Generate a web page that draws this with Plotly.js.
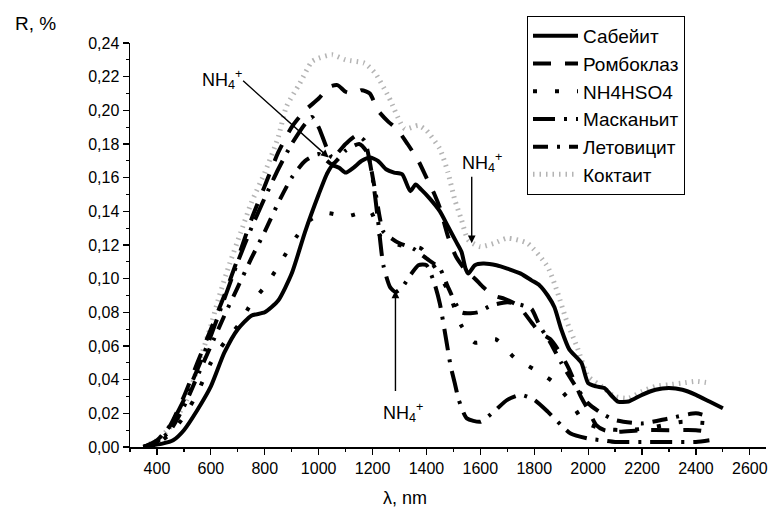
<!DOCTYPE html>
<html><head><meta charset="utf-8">
<script src="https://cdn.plot.ly/plotly-3.0.1.min.js"></script>
<style>html,body{margin:0;padding:0;background:#fff}#chart{width:770px;height:512px}</style>
</head><body><div id="chart"></div>
<script>
// Сабейит
const sabX = [350,380,420,460,500,550,600,650,700,750,800,850,900,950,1000,1030,1050,1075,1100,1130,1160,1190,1220,1250,1280,1310,1340,1360,1380,1410,1450,1480,1510,1530,1545,1555,1580,1610,1660,1700,1750,1790,1820,1850,1875,1900,1930,1975,2000,2030,2060,2090,2110,2150,2200,2250,2300,2350,2400,2450,2500];
const sabY = [0,0.001,0.002,0.004,0.010,0.022,0.036,0.056,0.070,0.078,0.080,0.087,0.103,0.128,0.150,0.162,0.167,0.166,0.163,0.166,0.170,0.172,0.170,0.165,0.163,0.162,0.152,0.156,0.153,0.148,0.140,0.131,0.122,0.116,0.106,0.103,0.108,0.109,0.108,0.106,0.103,0.099,0.096,0.090,0.083,0.070,0.058,0.050,0.038,0.036,0.035,0.030,0.027,0.027,0.031,0.034,0.035,0.034,0.031,0.027,0.023];
// Ромбоклаз
const romX = [350,400,450,500,550,600,650,700,750,800,850,900,950,1000,1040,1070,1100,1130,1160,1190,1220,1260,1290,1330,1370,1400,1430,1450,1480,1510,1550,1580,1610,1650,1690,1740,1790,1820,1860,1900,1930,1970,2000,2030,2060,2100,2200,2300,2400,2450];
const romY = [0,0.003,0.013,0.030,0.050,0.070,0.090,0.112,0.135,0.155,0.175,0.190,0.200,0.207,0.214,0.215,0.211,0.210,0.212,0.210,0.200,0.193,0.189,0.180,0.170,0.160,0.150,0.142,0.125,0.113,0.104,0.100,0.095,0.090,0.088,0.084,0.074,0.068,0.064,0.055,0.046,0.031,0.022,0.013,0.010,0.009,0.010,0.010,0.010,0.009];
// NH4HSO4
const nhX = [350,400,450,500,550,600,650,700,753,809,860,918,970,1026,1103,1192,1230,1300,1380,1430,1480,1530,1580,1657,1727,1801,1867,1930,1985,2050,2150,2250,2350,2450];
const nhY = [0,0.002,0.008,0.018,0.032,0.050,0.062,0.072,0.086,0.097,0.110,0.125,0.135,0.139,0.137,0.140,0.125,0.120,0.118,0.107,0.093,0.072,0.062,0.064,0.053,0.046,0.039,0.028,0.015,0.011,0.010,0.012,0.015,0.014];
// Масканьит
const masX = [350,400,450,500,550,600,650,700,750,800,850,900,950,975,1000,1050,1100,1140,1170,1200,1220,1240,1265,1285,1310,1340,1370,1400,1430,1450,1475,1490,1505,1520,1550,1600,1650,1700,1750,1800,1850,1900,1935,2000,2050,2100,2200,2300,2400,2450];
const masY = [0,0.004,0.013,0.028,0.046,0.066,0.088,0.110,0.130,0.148,0.165,0.180,0.192,0.196,0.190,0.172,0.180,0.185,0.182,0.160,0.135,0.108,0.095,0.092,0.095,0.102,0.108,0.108,0.097,0.085,0.062,0.048,0.038,0.028,0.017,0.015,0.021,0.028,0.031,0.028,0.021,0.013,0.008,0.005,0.004,0.003,0.003,0.003,0.003,0.004];
// Летовицит
const letX = [350,400,450,500,550,600,650,700,750,800,850,900,950,1000,1050,1100,1150,1180,1210,1240,1270,1300,1350,1400,1450,1480,1530,1590,1640,1700,1760,1790,1820,1860,1900,1950,2000,2050,2100,2200,2300,2400,2450];
const letY = [0,0.003,0.010,0.024,0.042,0.060,0.078,0.095,0.112,0.128,0.145,0.160,0.170,0.174,0.168,0.176,0.180,0.175,0.152,0.128,0.124,0.121,0.118,0.112,0.106,0.095,0.080,0.080,0.084,0.086,0.084,0.082,0.072,0.062,0.050,0.037,0.026,0.020,0.016,0.014,0.017,0.020,0.018];
// Коктаит
const kokX = [350,400,450,510,560,600,630,670,710,750,800,850,880,930,975,1000,1050,1100,1170,1210,1260,1320,1370,1400,1450,1480,1505,1530,1555,1600,1650,1700,1775,1850,1886,1920,1960,2000,2050,2100,2150,2200,2250,2300,2350,2400,2450];
const kokY = [0,0.004,0.012,0.028,0.052,0.072,0.089,0.109,0.127,0.145,0.163,0.184,0.202,0.216,0.229,0.231,0.233,0.230,0.228,0.222,0.208,0.189,0.191,0.188,0.177,0.163,0.147,0.135,0.123,0.119,0.121,0.124,0.121,0.107,0.092,0.075,0.059,0.042,0.036,0.030,0.029,0.033,0.036,0.037,0.038,0.039,0.038];

const names = ['Сабейит','Ромбоклаз','NH4HSO4','Масканьит','Летовицит','Коктаит'];
const yTicks = [0,0.02,0.04,0.06,0.08,0.10,0.12,0.14,0.16,0.18,0.20,0.22,0.24];
const xTicks = [400,600,800,1000,1200,1400,1600,1800,2000,2200,2400,2600];

const FONT = 'Arial, "Liberation Sans", sans-serif';
function tr(x, y, name, rank, line) {
  return {x, y, name, type:'scatter', mode:'lines', legendrank: rank,
          line: Object.assign({shape:'spline', smoothing:0.6}, line)};
}
const data = [
  tr(kokX, kokY, names[5], 6, {color:'#b4b4b4', width:5, dash:'1.5px,5px'}),
  tr(nhX, nhY, names[2], 3, {color:'#000', width:4, dash:'4px,18px'}),
  tr(letX, letY, names[4], 5, {color:'#000', width:4, dash:'15px,9px,3px,9px'}),
  tr(masX, masY, names[3], 4, {color:'#000', width:4, dash:'22px,9px,3px,9px'}),
  tr(romX, romY, names[1], 2, {color:'#000', width:4, dash:'18px,14px'}),
  tr(sabX, sabY, names[0], 1, {color:'#000', width:4})
];

const L = 130, R = 4, T = 43, H = 404;
const W = 770 - L - R;
function px(xp){return (xp-L)/W;}
function py(yp){return (T+H-yp)/H;}
const nh = 'NH<sub>4</sub><sup>+</sup>';
const arrowBase = {showarrow:true, arrowhead:2, arrowsize:1.1, arrowwidth:1.4, arrowcolor:'#000', text:'', xref:'x', yref:'y', axref:'pixel', ayref:'pixel'};

const layout = {
  width:770, height:512,
  margin:{l:L, r:R, t:T, b:512-T-H},
  paper_bgcolor:'#fff', plot_bgcolor:'#fff',
  separators:', ',
  font:{family:FONT, size:16, color:'#000'},
  showlegend:true,
  legend:{x:px(527), y:py(16), xanchor:'left', yanchor:'top', bgcolor:'#fff', bordercolor:'#000', borderwidth:1,
          font:{family:FONT, size:19, color:'#000'}, itemwidth:45, tracegroupgap:0},
  xaxis:{range:[300,2660], tickvals:xTicks, ticks:'outside', ticklen:6, tickwidth:1.2, tickcolor:'#000',
         showline:true, linecolor:'#000', linewidth:1.5, showgrid:false, zeroline:false, ticklabeloverflow:'allow',
         minor:{dtick:100, tick0:300, ticks:'outside', ticklen:3, tickwidth:1.2, tickcolor:'#000', showgrid:false},
         tickfont:{family:FONT, size:16, color:'#000'}},
  yaxis:{range:[0,0.24], tickvals:yTicks, tickformat:'.2f', ticks:'outside', ticklen:6, tickwidth:1.2, tickcolor:'#000',
         showline:true, linecolor:'#000', linewidth:1.5, showgrid:false, zeroline:false,
         minor:{dtick:0.01, ticks:'outside', ticklen:3, tickwidth:1.2, tickcolor:'#000', showgrid:false},
         tickfont:{family:FONT, size:16, color:'#000'}},
  annotations:[
    {text:'R, %', xref:'paper', yref:'paper', x:px(13), y:py(24), xanchor:'left', yanchor:'middle', showarrow:false, font:{size:19}},
    {text:'λ, nm', xref:'paper', yref:'paper', x:px(405), y:py(498), xanchor:'center', yanchor:'middle', showarrow:false, font:{size:18}},
    {text:nh, xref:'paper', yref:'paper', x:px(200), y:py(80), xanchor:'left', yanchor:'middle', showarrow:false, font:{size:18}},
    {text:nh, xref:'paper', yref:'paper', x:px(460), y:py(162), xanchor:'left', yanchor:'middle', showarrow:false, font:{size:18}},
    {text:nh, xref:'paper', yref:'paper', x:px(381), y:py(412), xanchor:'left', yanchor:'middle', showarrow:false, font:{size:18}},
    Object.assign({}, arrowBase, {x:1037, y:0.172, ax:-87, ay:-78}),
    Object.assign({}, arrowBase, {x:1568, y:0.121, ax:0, ay:-68}),
    Object.assign({}, arrowBase, {x:1285, y:0.093, ax:0, ay:102})
  ]
};
Plotly.newPlot('chart', data, layout, {staticPlot:true});
</script></body></html>
